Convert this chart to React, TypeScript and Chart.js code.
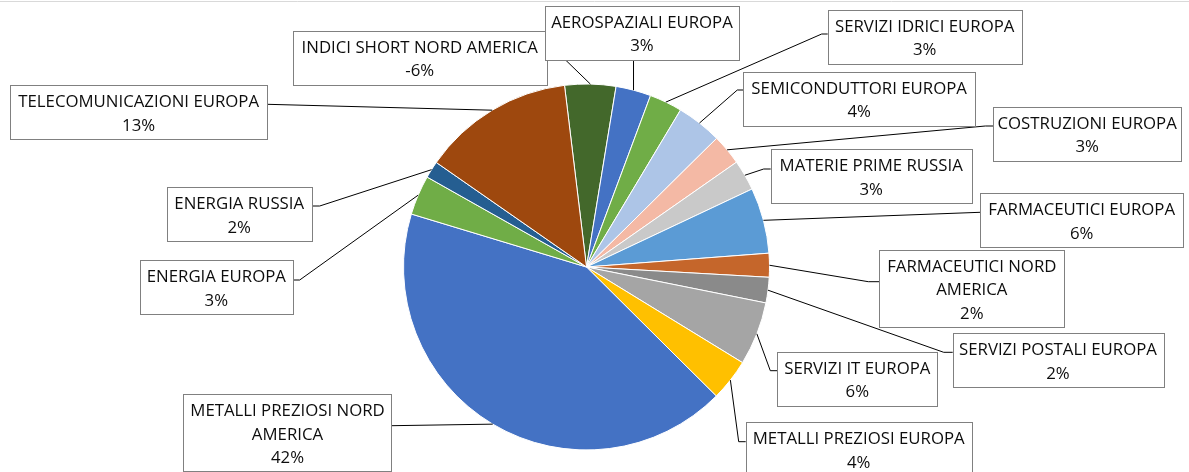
import React, { useEffect, useRef } from "react";
import { Chart, registerables } from "chart.js";

Chart.register(...registerables);

// ---- data ----
const categories = [
  "INDICI SHORT NORD AMERICA",
  "AEROSPAZIALI EUROPA",
  "SERVIZI IDRICI EUROPA",
  "SEMICONDUTTORI EUROPA",
  "COSTRUZIONI EUROPA",
  "MATERIE PRIME RUSSIA",
  "FARMACEUTICI EUROPA",
  "FARMACEUTICI NORD\nAMERICA",
  "SERVIZI POSTALI EUROPA",
  "SERVIZI IT EUROPA",
  "METALLI PREZIOSI EUROPA",
  "METALLI PREZIOSI NORD\nAMERICA",
  "ENERGIA EUROPA",
  "ENERGIA RUSSIA",
  "TELECOMUNICAZIONI EUROPA",
];

// slice sizes as drawn (share of the pie, %)
const sliceShares = [4.5, 3.1, 2.9, 4.0, 2.7, 2.7, 5.8, 2.1, 2.25, 5.6, 3.7, 42.2, 3.5, 1.5, 13.4];

// percentage labels printed in the callouts
const percentLabels = ["-6%", "3%", "3%", "4%", "3%", "3%", "6%", "2%", "2%", "6%", "4%", "42%", "3%", "2%", "13%"];

const sliceColors = [
  "#43682B", "#4472C4", "#70AD47", "#ADC5E7", "#F4B9A5", "#C9C9C9", "#5B9BD5",
  "#C5662B", "#8A8A8A", "#A5A5A5", "#FFC000", "#4472C4", "#70AD47", "#255E91", "#9E480E",
];

// ---- callout layout (box position, width, which side the leader attaches to) ----
type Callout = { x: number; y: number; w: number; side: "L" | "R" | "B"; attach: number; elbow: number };
const callouts: Callout[] = [
  { x: 292.7, y: 30.7, w: 254, side: "R", attach: 11, elbow: 0 },
  { x: 545, y: 6, w: 194, side: "B", attach: 0, elbow: 0 },
  { x: 827.7, y: 10, w: 194, side: "L", attach: 24, elbow: 6 },
  { x: 743.3, y: 71.5, w: 231.7, side: "L", attach: 18.5, elbow: 6 },
  { x: 993.3, y: 107, w: 187.7, side: "L", attach: 19, elbow: 8 },
  { x: 770.7, y: 149.3, w: 201, side: "L", attach: 19.7, elbow: 7 },
  { x: 980, y: 193.3, w: 203.3, side: "L", attach: 19, elbow: 0 },
  { x: 879.3, y: 250, w: 185, side: "L", attach: 31.7, elbow: 11 },
  { x: 952.7, y: 333.3, w: 210.6, side: "L", attach: 19, elbow: 9 },
  { x: 777.3, y: 351.7, w: 160, side: "L", attach: 19, elbow: 7 },
  { x: 745.7, y: 422.3, w: 226, side: "L", attach: 19.4, elbow: 7 },
  { x: 183.3, y: 394.3, w: 208.4, side: "R", attach: 31.4, elbow: 0 },
  { x: 140, y: 260.3, w: 152.7, side: "R", attach: 19.7, elbow: 7 },
  { x: 166.7, y: 187.3, w: 145, side: "R", attach: 18.7, elbow: 8 },
  { x: 10, y: 85.3, w: 257.3, side: "R", attach: 19, elbow: 0 },
];

const FONT = '16.8px "Open Sans", "Noto Sans", sans-serif';
const LINE_H = 23.4;

const calloutPlugin = {
  id: "callouts",
  afterDatasetsDraw(chart: any) {
    const ctx: CanvasRenderingContext2D = chart.ctx;
    const meta = chart.getDatasetMeta(0);
    ctx.save();

    // faint chart frame line at the top
    ctx.strokeStyle = "#D9D9D9";
    ctx.lineWidth = 1;
    ctx.beginPath();
    ctx.moveTo(0, 1.5);
    ctx.lineTo(chart.width, 1.5);
    ctx.stroke();

    const boxH = (i: number) => {
      const n = categories[i].split("\n").length + 1;
      return 8 + 23 * n;
    };

    // leader lines
    ctx.strokeStyle = "#000000";
    ctx.lineWidth = 1;
    meta.data.forEach((arc: any, i: number) => {
      const p = arc.getProps(["x", "y", "startAngle", "endAngle", "outerRadius"], true);
      const mid = (p.startAngle + p.endAngle) / 2;
      const ax = p.x + Math.cos(mid) * p.outerRadius;
      const ay = p.y + Math.sin(mid) * p.outerRadius;
      const c = callouts[i];
      let sx: number, sy: number, ex: number, ey: number;
      if (c.side === "L") {
        sx = c.x; sy = c.y + c.attach; ex = sx - c.elbow; ey = sy;
      } else if (c.side === "R") {
        sx = c.x + c.w; sy = c.y + c.attach; ex = sx + c.elbow; ey = sy;
      } else {
        sx = ax; sy = c.y + boxH(i); ex = sx; ey = sy;
      }
      ctx.beginPath();
      ctx.moveTo(sx, sy);
      ctx.lineTo(ex, ey);
      ctx.lineTo(ax, ay);
      ctx.stroke();
    });

    // label boxes
    ctx.font = FONT;
    ctx.textAlign = "center";
    ctx.textBaseline = "alphabetic";
    callouts.forEach((c, i) => {
      const h = boxH(i);
      const bx = Math.round(c.x) + 0.5;
      const by = Math.round(c.y) + 0.5;
      const bw = Math.round(c.w);
      ctx.fillStyle = "#FFFFFF";
      ctx.fillRect(bx, by, bw, h);
      ctx.strokeStyle = "#808080";
      ctx.lineWidth = 1;
      ctx.strokeRect(bx, by, bw, h);
      const lines = [...categories[i].split("\n"), percentLabels[i]];
      ctx.fillStyle = "#0D0D0D";
      lines.forEach((t, k) => {
        ctx.fillText(t, c.x + c.w / 2, c.y + 22 + LINE_H * k);
      });
    });

    ctx.restore();
  },
};

export default function App() {
  const canvasRef = useRef<HTMLCanvasElement | null>(null);

  useEffect(() => {
    if (!canvasRef.current) return;
    const chart = new Chart(canvasRef.current, {
      type: "pie",
      data: {
        labels: categories,
        datasets: [
          {
            data: sliceShares,
            backgroundColor: sliceColors,
            borderColor: "#FFFFFF",
            borderWidth: 1,
          },
        ],
      },
      options: {
        animation: false,
        responsive: true,
        maintainAspectRatio: false,
        rotation: -6.9,
        events: [],
        layout: { padding: { top: 83.5, bottom: 21.5, left: 300, right: 316 } },
        plugins: {
          legend: { display: false },
          tooltip: { enabled: false },
        },
      },
      plugins: [calloutPlugin],
    });
    return () => chart.destroy();
  }, []);

  return (
    <div style={{ position: "fixed", left: 0, top: 0, width: 1189, height: 472, background: "#FFFFFF" }}>
      <canvas ref={canvasRef} />
    </div>
  );
}
